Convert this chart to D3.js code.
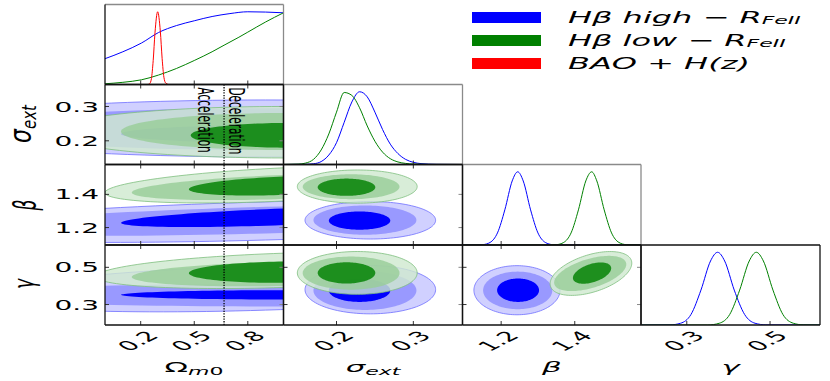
<!DOCTYPE html>
<html>
<head>
<meta charset="utf-8">
<script src="https://cdn.jsdelivr.net/npm/d3@7"></script>
<style>body{margin:0;background:#fff}</style>
</head>
<body>
<div id="chart"></div>
<script>
// parameters of the triangle plot
var params = ["omega", "sigma", "beta", "gamma"];
var domains = {omega: [0, 1], sigma: [0.131, 0.364], beta: [1.095, 1.58], gamma: [0.19, 0.62]};
var ticks = {omega: [0.2, 0.5, 0.8], sigma: [0.2, 0.3], beta: [1.2, 1.4], gamma: [0.3, 0.5]};
var tickText = {omega: ["0.2", "0.5", "0.8"], sigma: ["0.2", "0.3"], beta: ["1.2", "1.4"], gamma: ["0.3", "0.5"]};
var omegaDecel = 0.667;

// 1D marginals: [value, relative density]
var omegaHigh = [[0,0.355],[0.1,0.45],[0.205,0.571],[0.3,0.715],[0.4,0.81],[0.5,0.876],[0.6,0.935],[0.7,0.975],[0.8,1.0],[0.9,0.996],[1.0,0.986]];
var omegaLow = [[0,0.01],[0.1,0.03],[0.205,0.065],[0.3,0.13],[0.4,0.22],[0.5,0.33],[0.6,0.45],[0.667,0.54],[0.75,0.65],[0.8,0.72],[0.9,0.86],[1.0,0.986]];
var omegaBAO = [[0.24,0],[0.25,0.01],[0.26,0.08],[0.27,0.33],[0.28,0.71],[0.295,1],[0.31,0.73],[0.32,0.36],[0.33,0.1],[0.34,0.02],[0.355,0]];
var sigmaHigh = [[0.131,0],[0.16,0.003],[0.17,0.01],[0.18,0.04],[0.19,0.13],[0.2,0.3],[0.21,0.58],[0.22,0.86],[0.23,1.0],[0.24,0.93],[0.25,0.72],[0.26,0.48],[0.27,0.28],[0.28,0.15],[0.29,0.07],[0.3,0.03],[0.31,0.012],[0.33,0.002],[0.364,0]];
var sigmaLow = [[0.131,0],[0.15,0.005],[0.16,0.02],[0.17,0.07],[0.18,0.2],[0.19,0.42],[0.2,0.72],[0.21,0.99],[0.22,0.95],[0.23,0.78],[0.24,0.53],[0.25,0.32],[0.26,0.17],[0.27,0.08],[0.28,0.035],[0.29,0.015],[0.3,0.006],[0.32,0.001],[0.364,0]];
var betaHigh = [[1.095,0],[1.13,0.001],[1.15,0.005],[1.17,0.035],[1.19,0.165],[1.21,0.48],[1.23,0.875],[1.245,1],[1.26,0.875],[1.28,0.48],[1.3,0.165],[1.32,0.035],[1.34,0.005],[1.37,0],[1.58,0]];
var betaLow = [[1.095,0],[1.31,0],[1.35,0.005],[1.37,0.035],[1.39,0.165],[1.41,0.48],[1.43,0.875],[1.446,1],[1.46,0.875],[1.48,0.48],[1.5,0.165],[1.52,0.035],[1.54,0.005],[1.58,0]];
var gammaHigh = [[0.19,0],[0.26,0.002],[0.285,0.024],[0.31,0.144],[0.334,0.48],[0.357,0.88],[0.374,1],[0.391,0.88],[0.414,0.48],[0.439,0.144],[0.464,0.024],[0.49,0.002],[0.62,0]];
var gammaLow = [[0.19,0],[0.35,0],[0.378,0.024],[0.403,0.144],[0.427,0.48],[0.45,0.88],[0.467,1],[0.484,0.88],[0.507,0.48],[0.531,0.144],[0.556,0.024],[0.58,0.002],[0.62,0]];

// 2D contours, outer to inner: [cx, cy, rx, ry, slope]
var sigmaOmegaHigh = [[0.9,0.236,1.9,0.083,0],[0.9,0.234,1.6,0.061,0],[1.0,0.22,0.91,0.026,0]];
var sigmaOmegaLow = [[1.0,0.225,1.3,0.075,0],[1.0,0.227,0.91,0.054,0],[1.02,0.216,0.54,0.036,0]];
var betaOmegaHigh = [[0.9,1.24,2.0,0.115,0.03],[0.9,1.245,1.7,0.08,0.03],[1.0,1.265,0.91,0.05,0.04]];
var betaOmegaLow = [[1.0,1.46,1.0,0.1,0.05],[1.0,1.445,0.85,0.072,0.04],[1.0,1.452,0.53,0.055,0.04]];
var gammaOmegaHigh = [[0.9,0.39,1.6,0.12,0.03],[0.9,0.35,1.7,0.06,0],[1.0,0.352,0.91,0.025,0]];
var gammaOmegaLow = [[1.0,0.484,1.05,0.092,0.032],[1.0,0.465,0.85,0.065,0.02],[1.0,0.474,0.53,0.057,0.01]];
var betaSigmaHigh = [[0.244,1.244,0.085,0.113,0],[0.237,1.245,0.067,0.088,0],[0.23,1.242,0.04,0.055,0]];
var betaSigmaLow = [[0.227,1.447,0.078,0.1,0],[0.219,1.446,0.063,0.075,0],[0.213,1.443,0.0375,0.052,0]];
var gammaSigmaHigh = [[0.244,0.38,0.085,0.13,0],[0.237,0.375,0.067,0.104,0],[0.23,0.376,0.04,0.062,0]];
var gammaSigmaLow = [[0.227,0.47,0.078,0.115,0],[0.219,0.469,0.063,0.089,0],[0.213,0.47,0.0375,0.057,0]];
var gammaBetaHigh = [[1.243,0.377,0.117,0.132,0],[1.245,0.376,0.094,0.101,0],[1.246,0.377,0.057,0.063,0]];
var gammaBetaLow = [[1.444,0.467,0.111,0.104,0.5],[1.442,0.467,0.098,0.081,0.5],[1.447,0.469,0.052,0.051,0.5]];

var legendLabels = ["Hβ high − R", "Hβ low − R", "BAO + H(z)"];
var legendSubs = ["FeII", "FeII", ""];
var legendColors = ["#0000ff", "#008000", "#ff0000"];

var W = 830, H = 381;
var colEdges = [105, 283.5, 462.5, 641, 820];
var rowEdges = [4.5, 84.5, 164.5, 245, 325];
var blueFills = ["#d0d0ff", "#9999ff", "#0000ff"];
var greenFills = ["#d0e9d0", "#99cd99", "#008000"];

var svg = d3.select("#chart").append("svg")
	.attr("width", W).attr("height", H)
	.style("font-family", "DejaVu Sans");

var xs = params.map((p, i) => d3.scaleLinear().domain(domains[p]).range([colEdges[i], colEdges[i+1]]));
var ys = params.map((p, i) => d3.scaleLinear().domain(domains[p]).range([rowEdges[i+1], rowEdges[i]]));
var yd = params.map((p, i) => d3.scaleLinear().domain([0, 1.1]).range([rowEdges[i+1], rowEdges[i]]));

// clip rects for every panel
var defs = svg.append("defs");
function clipId(r, c) { return "clip" + r + c; }
for (var r = 0; r < 4; r++) for (var c = 0; c <= r; c++) {
	defs.append("clipPath").attr("id", clipId(r, c)).append("rect")
		.attr("x", colEdges[c]).attr("y", rowEdges[r])
		.attr("width", colEdges[c+1] - colEdges[c]).attr("height", rowEdges[r+1] - rowEdges[r]);
}

// ellipse outline (with shear = correlation slope) in data units
function ellipsePts(e) {
	var pts = [];
	for (var a = 0; a < 360; a += 3) {
		var t = a * Math.PI / 180, dx = e[2] * Math.cos(t);
		pts.push([e[0] + dx, e[1] + e[3] * Math.sin(t) + e[4] * dx]);
	}
	return pts;
}

var contours = [
	{r: 1, c: 0, high: sigmaOmegaHigh, low: sigmaOmegaLow},
	{r: 2, c: 0, high: betaOmegaHigh, low: betaOmegaLow},
	{r: 3, c: 0, high: gammaOmegaHigh, low: gammaOmegaLow},
	{r: 2, c: 1, high: betaSigmaHigh, low: betaSigmaLow},
	{r: 3, c: 1, high: gammaSigmaHigh, low: gammaSigmaLow},
	{r: 3, c: 2, high: gammaBetaHigh, low: gammaBetaLow}
];

contours.forEach(d => {
	var g = svg.append("g").attr("clip-path", "url(#" + clipId(d.r, d.c) + ")");
	var line = d3.line().x(p => xs[d.c](p[0])).y(p => ys[d.r](p[1])).curve(d3.curveLinearClosed);
	g.selectAll("path.hi").data(d.high).enter().append("path")
		.attr("d", e => line(ellipsePts(e)))
		.style("fill", (e, i) => blueFills[i])
		.style("stroke", (e, i) => i == 0 ? "#6f6fff" : "none")
		.style("stroke-width", 0.8);
	g.selectAll("path.lo").data(d.low).enter().append("path")
		.attr("d", e => line(ellipsePts(e)))
		.style("fill", (e, i) => greenFills[i])
		.style("fill-opacity", 0.82)
		.style("stroke", (e, i) => i == 0 ? "#7fbf7f" : "none")
		.style("stroke-width", 0.8);
});

// 1D marginals
var marginals = [
	{i: 0, curves: [[omegaHigh, "#0000ff"], [omegaLow, "#008000"], [omegaBAO, "#ff0000"]]},
	{i: 1, curves: [[sigmaHigh, "#0000ff"], [sigmaLow, "#008000"]]},
	{i: 2, curves: [[betaHigh, "#0000ff"], [betaLow, "#008000"]]},
	{i: 3, curves: [[gammaHigh, "#0000ff"], [gammaLow, "#008000"]]}
];
marginals.forEach(m => {
	var g = svg.append("g").attr("clip-path", "url(#" + clipId(m.i, m.i) + ")");
	var line = d3.line().x(p => xs[m.i](p[0])).y(p => yd[m.i](p[1])).curve(d3.curveMonotoneX);
	m.curves.forEach(cv => {
		g.append("path").attr("d", line(cv[0]))
			.style("fill", "none").style("stroke", cv[1]).style("stroke-width", 1);
	});
});

// acceleration / deceleration divide
svg.append("line")
	.attr("x1", xs[0](omegaDecel)).attr("x2", xs[0](omegaDecel))
	.attr("y1", rowEdges[1]).attr("y2", rowEdges[4])
	.style("stroke", "#000").style("stroke-width", 1.3).style("stroke-dasharray", "1.3,1.3");

function stext(x, y, sx, rot, size, anchor) {
	return svg.append("text")
		.attr("transform", "translate(" + x + "," + y + ") scale(" + sx + ",1) rotate(" + rot + ")")
		.attr("text-anchor", anchor).attr("font-size", size);
}
var xd = xs[0](omegaDecel);
stext(xd - 26, rowEdges[1] + 3, 2, 90, 10.5, "start").text("Acceleration");
stext(xd + 5, rowEdges[1] + 3, 2, 90, 10.5, "start").text("Deceleration");

// ticks
var tk = svg.append("g").style("stroke", "#333").style("stroke-width", 1);
for (var r = 0; r < 4; r++) for (var c = 0; c <= r; c++) {
	var x0 = colEdges[c], x1 = colEdges[c+1], y0 = rowEdges[r], y1 = rowEdges[r+1];
	ticks[params[c]].forEach(v => {
		var x = xs[c](v);
		tk.append("line").attr("x1", x).attr("x2", x).attr("y1", y1).attr("y2", y1 - 4);
		if (r != c) tk.append("line").attr("x1", x).attr("x2", x).attr("y1", y0).attr("y2", y0 + 4);
	});
	if (r != c) ticks[params[r]].forEach(v => {
		var y = ys[r](v);
		tk.append("line").attr("x1", x0).attr("x2", x0 + 4).attr("y1", y).attr("y2", y);
		tk.append("line").attr("x1", x1).attr("x2", x1 - 4).attr("y1", y).attr("y2", y).style("stroke", "#888");
	});
}

// panel frames
var fr = svg.append("g").style("fill", "none").style("stroke-width", 1.3);
for (var r = 0; r < 4; r++) for (var c = 0; c <= r; c++) {
	var x0 = colEdges[c], x1 = colEdges[c+1], y0 = rowEdges[r], y1 = rowEdges[r+1];
	var light = (r == c && r < 3) ? "#8a8a8a" : "#111";
	fr.append("line").attr("x1", x0).attr("x2", x1).attr("y1", y0).attr("y2", y0).style("stroke", light);
	fr.append("line").attr("x1", x1).attr("x2", x1).attr("y1", y0).attr("y2", y1).style("stroke", light);
}
for (var r = 0; r < 4; r++) for (var c = 0; c <= r; c++) {
	var x0 = colEdges[c], x1 = colEdges[c+1], y0 = rowEdges[r], y1 = rowEdges[r+1];
	fr.append("line").attr("x1", x0).attr("x2", x0).attr("y1", y0).attr("y2", y1).style("stroke", "#111");
	fr.append("line").attr("x1", x0).attr("x2", x1).attr("y1", y1).attr("y2", y1).style("stroke", "#111");
}

// tick labels
for (var r = 1; r < 4; r++) {
	ticks[params[r]].forEach((v, j) => {
		stext(99, ys[r](v), 2, 0, 14, "end").attr("dominant-baseline", "central").text(tickText[params[r]][j]);
	});
}
for (var c = 0; c < 4; c++) {
	ticks[params[c]].forEach((v, j) => {
		stext(xs[c](v) - 3, 341, 2, -45, 13.5, "middle").attr("dominant-baseline", "central").text(tickText[params[c]][j]);
	});
}

// axis labels
var xl0 = stext(194, 372, 2.2, 0, 14, "middle");
xl0.append("tspan").text("Ω");
xl0.append("tspan").attr("font-size", 10).attr("dy", 3).attr("font-style", "italic").text("m");
xl0.append("tspan").attr("font-size", 10).text("0");
var xl1 = stext(373, 372, 2.2, 0, 14, "middle").attr("font-style", "italic");
xl1.append("tspan").text("σ");
xl1.append("tspan").attr("font-size", 10).attr("dy", 3).text("ext");
stext(551.75, 372, 2.2, 0, 14, "middle").attr("font-style", "italic").text("β");
stext(730.5, 372, 2.2, 0, 14, "middle").attr("font-style", "italic").text("γ");

var yl1 = stext(31, 124, 1.35, -90, 22, "middle").attr("font-style", "italic");
yl1.append("tspan").text("σ");
yl1.append("tspan").attr("font-size", 15).attr("dy", 4).text("ext");
stext(35.5, 205, 1.9, -90, 17, "middle").attr("font-style", "italic").text("β");
stext(33.6, 284, 1.7, -90, 17, "middle").attr("font-style", "italic").text("γ");

// legend
legendLabels.forEach((lab, i) => {
	var y = 17.5 + i * 23;
	svg.append("rect").attr("x", 472).attr("y", y - 5.5).attr("width", 69).attr("height", 11)
		.style("fill", legendColors[i]);
	var t = stext(568, y, 2, 0, 16, "start").attr("font-style", "italic")
		.attr("dominant-baseline", "central").style("white-space", "pre");
	t.append("tspan").text(lab);
	if (legendSubs[i]) t.append("tspan").attr("font-size", 11).attr("dy", 3).text(legendSubs[i]);
});
</script>
</body>
</html>
